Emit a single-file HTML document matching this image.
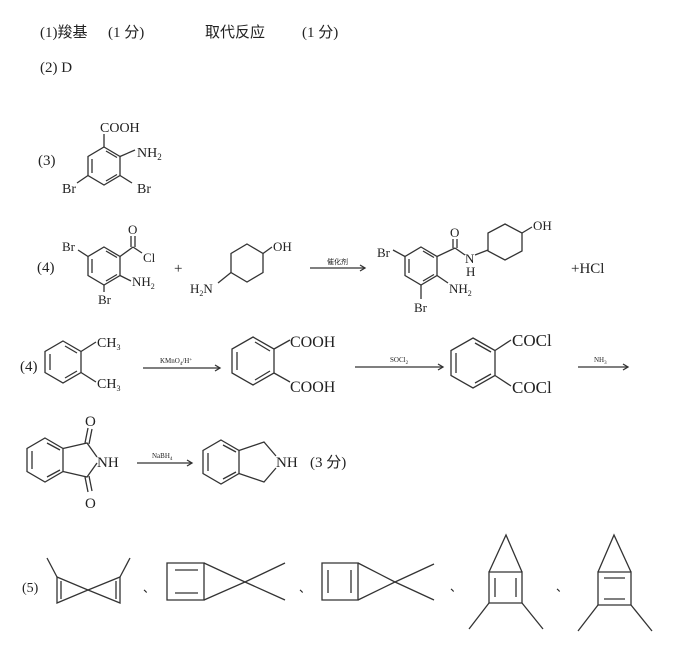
<!DOCTYPE html>
<html><head><meta charset="utf-8"><style>
html,body{margin:0;padding:0;background:#fff;}
svg{display:block;}
text{font-family:"Liberation Serif","Noto Serif CJK SC",serif;fill:#222;}
.s{font-family:"Liberation Sans","Noto Sans CJK SC",sans-serif;}
line,polyline,polygon{stroke:#333;stroke-width:1.3;fill:none;}
</style></head><body>
<svg width="692" height="648" viewBox="0 0 692 648" xmlns="http://www.w3.org/2000/svg">
<text x="40" y="37" font-size="15">(1)<tspan class="s">羧基</tspan></text>
<text x="108" y="37" font-size="15">(1 <tspan class="s">分</tspan>)</text>
<text x="205" y="37" font-size="15" class="s">取代反应</text>
<text x="302" y="37" font-size="15">(1 <tspan class="s">分</tspan>)</text>
<text x="40" y="72" font-size="15">(2) D</text>

<!-- (3) -->
<text x="38" y="165" font-size="15">(3)</text>
<polygon points="104,147 120,156.5 120,175.5 104,185 88,175.5 88,156.5"/>
<line x1="92" y1="159" x2="92" y2="173"/><line x1="106" y1="181" x2="117" y2="174.5"/><line x1="106" y1="151" x2="117" y2="157.5"/>
<line x1="104" y1="147" x2="104" y2="134"/>
<text x="100" y="132" font-size="14">COOH</text>
<line x1="120" y1="156.5" x2="135" y2="150"/>
<text x="137" y="157" font-size="14">NH<tspan font-size="9" dy="3">2</tspan></text>
<line x1="88" y1="175.5" x2="77" y2="183"/><text x="62" y="193" font-size="14">Br</text>
<line x1="120" y1="175.5" x2="132" y2="183"/><text x="137" y="193" font-size="14">Br</text>

<!-- (4) reaction 1 -->
<text x="37" y="272" font-size="15">(4)</text>
<polygon points="104,247 120,256.5 120,275.5 104,285 88,275.5 88,256.5"/>
<line x1="92" y1="259" x2="92" y2="273"/><line x1="106" y1="281" x2="117" y2="274.5"/><line x1="106" y1="251" x2="117" y2="257.5"/>
<line x1="88" y1="256.5" x2="78" y2="250"/><text x="62" y="251" font-size="13">Br</text>
<line x1="120" y1="256.5" x2="133" y2="247"/><line x1="131" y1="247" x2="131" y2="236"/><line x1="135" y1="247" x2="135" y2="236"/>
<text x="128" y="234" font-size="13">O</text>
<line x1="133" y1="247" x2="142" y2="253"/><text x="143" y="262" font-size="13">Cl</text>
<line x1="120" y1="275.5" x2="131" y2="281"/><text x="132" y="286" font-size="13">NH<tspan font-size="8" dy="3">2</tspan></text>
<line x1="104" y1="285" x2="104" y2="292"/><text x="98" y="304" font-size="13">Br</text>
<text x="174" y="273" font-size="15">+</text>
<polygon points="247,244 263,253.5 263,272.5 247,282 231,272.5 231,253.5"/>
<line x1="263" y1="253.5" x2="272" y2="247"/><text x="273" y="251" font-size="13">OH</text>
<line x1="231" y1="272.5" x2="218" y2="283"/><text x="190" y="293" font-size="13">H<tspan font-size="8" dy="3">2</tspan><tspan dy="-3">N</tspan></text>
<line x1="310" y1="268" x2="365" y2="268"/><polyline points="360,265 365,268 360,271"/>
<text x="327" y="264" font-size="7" class="s">催化剂</text>

<polygon points="421,247 437,256.5 437,275.5 421,285 405,275.5 405,256.5"/>
<line x1="409" y1="259" x2="409" y2="273"/><line x1="423" y1="281" x2="434" y2="274.5"/><line x1="423" y1="251" x2="434" y2="257.5"/>
<line x1="405" y1="256.5" x2="393" y2="250"/><text x="377" y="257" font-size="13">Br</text>
<line x1="437" y1="256.5" x2="455" y2="248"/><line x1="453" y1="248" x2="453" y2="239"/><line x1="457" y1="248" x2="457" y2="239"/>
<text x="450" y="237" font-size="13">O</text>
<line x1="455" y1="248" x2="465" y2="255"/><text x="465" y="263" font-size="13">N</text><text x="466" y="276" font-size="13">H</text>
<line x1="475" y1="255" x2="488" y2="250"/>
<polygon points="505,224 522,233 522,251 505,260 488,251 488,233"/>
<line x1="522" y1="233" x2="532" y2="227"/><text x="533" y="230" font-size="13">OH</text>
<line x1="437" y1="275.5" x2="448" y2="283"/><text x="449" y="293" font-size="13">NH<tspan font-size="8" dy="3">2</tspan></text>
<line x1="421" y1="285" x2="421" y2="299"/><text x="414" y="312" font-size="13">Br</text>
<text x="571" y="273" font-size="15">+HCl</text>

<!-- (4) route -->
<text x="20" y="371" font-size="15">(4)</text>
<polygon points="63,341 81,351.5 81,372.5 63,383 45,372.5 45,351.5"/>
<line x1="50" y1="354" x2="50" y2="370"/><line x1="65" y1="378" x2="77" y2="371"/><line x1="65" y1="346" x2="77" y2="353"/>
<line x1="81" y1="351.5" x2="96" y2="342"/><text x="97" y="347" font-size="14">CH<tspan font-size="8" dy="3">3</tspan></text>
<line x1="81" y1="372.5" x2="96" y2="382"/><text x="97" y="388" font-size="14">CH<tspan font-size="8" dy="3">3</tspan></text>
<line x1="143" y1="368" x2="220" y2="368"/><polyline points="215,365 220,368 215,371"/>
<text x="160" y="363" font-size="7">KMnO<tspan font-size="5" dy="2">4</tspan><tspan dy="-2">/H</tspan><tspan font-size="5" dy="-2">+</tspan></text>

<polygon points="253,337 274,349 274,373 253,385 232,373 232,349"/>
<line x1="237" y1="352" x2="237" y2="370"/><line x1="255" y1="380" x2="270" y2="371"/><line x1="255" y1="342" x2="270" y2="351"/>
<line x1="274" y1="349" x2="290" y2="340"/><text x="290" y="347" font-size="16">COOH</text>
<line x1="274" y1="373" x2="290" y2="382"/><text x="290" y="392" font-size="16">COOH</text>
<line x1="355" y1="367" x2="443" y2="367"/><polyline points="438,364 443,367 438,370"/>
<text x="390" y="362" font-size="7">SOCl<tspan font-size="5" dy="2">2</tspan></text>

<polygon points="473,338 495,350.5 495,375.5 473,388 451,375.5 451,350.5"/>
<line x1="456" y1="353" x2="456" y2="373"/><line x1="475" y1="383" x2="491" y2="374"/><line x1="475" y1="343" x2="491" y2="352"/>
<line x1="495" y1="350.5" x2="511" y2="340"/><text x="512" y="346" font-size="17">COCl</text>
<line x1="495" y1="375.5" x2="511" y2="386"/><text x="512" y="393" font-size="17">COCl</text>
<line x1="578" y1="367" x2="628" y2="367"/><polyline points="623,364 628,367 623,370"/>
<text x="594" y="362" font-size="7">NH<tspan font-size="5" dy="2">3</tspan></text>

<!-- phthalimide -->
<polygon points="45,438 63,448.5 63,471.5 45,482 27,471.5 27,448.5"/>
<line x1="32" y1="451" x2="32" y2="469"/><line x1="47" y1="477" x2="60" y2="470"/><line x1="47" y1="443" x2="60" y2="450"/>
<polyline points="63,448.5 87,443 97,457"/><polyline points="63,471.5 87,477 97,463"/>
<line x1="85" y1="443" x2="88" y2="428"/><line x1="89" y1="444" x2="92" y2="429"/>
<line x1="85" y1="477" x2="88" y2="492"/><line x1="89" y1="476" x2="92" y2="491"/>
<text x="85" y="426" font-size="15">O</text><text x="85" y="508" font-size="15">O</text>
<text x="97" y="467" font-size="15">NH</text>
<line x1="137" y1="463" x2="192" y2="463"/><polyline points="187,460 192,463 187,466"/>
<text x="152" y="458" font-size="7">NaBH<tspan font-size="5" dy="2">4</tspan></text>
<polygon points="221,440 239,450.5 239,473.5 221,484 203,473.5 203,450.5"/>
<line x1="208" y1="453" x2="208" y2="471"/><line x1="223" y1="479" x2="236" y2="472"/><line x1="223" y1="445" x2="236" y2="452"/>
<polyline points="239,450.5 264,442 276,456"/><polyline points="239,473.5 264,482 276,468"/>
<text x="276" y="467" font-size="15">NH</text>
<text x="310" y="467" font-size="15">(3 <tspan class="s">分</tspan>)</text>

<!-- (5) -->
<text x="22" y="592" font-size="14">(5)</text>
<polygon points="57,577 57,603 88,590"/><line x1="61" y1="581" x2="61" y2="599"/>
<polygon points="120,577 120,603 88,590"/><line x1="116" y1="581" x2="116" y2="599"/>
<line x1="57" y1="577" x2="47" y2="558"/><line x1="120" y1="577" x2="130" y2="558"/>
<text x="143" y="592" font-size="12" class="s">、</text>
<polygon points="167,563 204,563 204,600 167,600"/>
<line x1="175" y1="570" x2="198" y2="570"/><line x1="175" y1="593" x2="198" y2="593"/>
<polyline points="204,563 245,582 204,600"/><line x1="245" y1="582" x2="285" y2="563"/><line x1="245" y1="582" x2="285" y2="600"/>
<text x="299" y="592" font-size="12" class="s">、</text>
<polygon points="322,563 358,563 358,600 322,600"/>
<line x1="328" y1="570" x2="328" y2="593"/><line x1="351" y1="570" x2="351" y2="593"/>
<polyline points="358,563 395,582 358,600"/><line x1="395" y1="582" x2="434" y2="564"/><line x1="395" y1="582" x2="434" y2="600"/>
<text x="450" y="591" font-size="12" class="s">、</text>
<polygon points="489,572 522,572 522,603 489,603"/>
<line x1="495" y1="578" x2="495" y2="597"/><line x1="516" y1="578" x2="516" y2="597"/>
<polyline points="489,572 506,535 522,572"/><line x1="489" y1="603" x2="469" y2="629"/><line x1="522" y1="603" x2="543" y2="629"/>
<text x="556" y="591" font-size="12" class="s">、</text>
<polygon points="598,572 631,572 631,605 598,605"/>
<line x1="604" y1="578" x2="625" y2="578"/><line x1="604" y1="599" x2="625" y2="599"/>
<polyline points="598,572 614,535 631,572"/><line x1="598" y1="605" x2="578" y2="631"/><line x1="631" y1="605" x2="652" y2="631"/>
</svg>
</body></html>
